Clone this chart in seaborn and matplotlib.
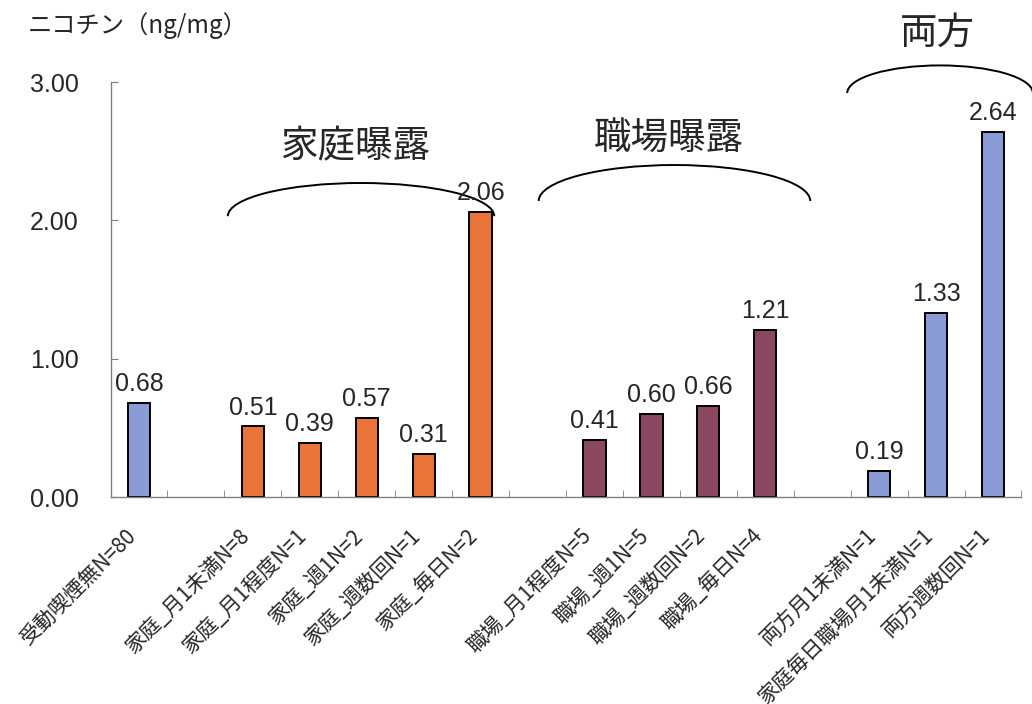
import pandas as pd
import numpy as np
import matplotlib.pyplot as plt
from matplotlib.patches import Arc
from matplotlib.ticker import FixedLocator
from matplotlib.transforms import ScaledTranslation
import seaborn as sns

# data
categories = ["受動喫煙無N=80",
              "家庭_月1未満N=8", "家庭_月1程度N=1", "家庭_週1N=2", "家庭_週数回N=1", "家庭_毎日N=2",
              "職場_月1程度N=5", "職場_週1N=5", "職場_週数回N=2", "職場_毎日N=4",
              "両方月1未満N=1", "家庭毎日職場月1未満N=1", "両方週数回N=1"]
values = [0.68, 0.51, 0.39, 0.57, 0.31, 2.06, 0.41, 0.60, 0.66, 1.21, 0.19, 1.33, 2.64]
groups = ["none"] + ["home"] * 5 + ["work"] * 4 + ["both"] * 3
yticks = [0, 1, 2, 3]

palette = {"none": "#8a9bd6", "home": "#e8743a", "work": "#8a4860", "both": "#8a9bd6"}

# group brackets: label, first cat, last cat, left/right overhang, arc base y, arc rise, text x shift, text y
brackets = [("家庭曝露", 1, 5, 0.44, 0.24, 2.03, 0.24, -0.11, 2.53),
            ("職場曝露", 6, 9, 0.98, 0.79, 2.14, 0.26, -0.10, 2.59),
            ("両方", 10, 12, 0.56, 0.70, 2.92, 0.20, -0.04, 3.35)]

df = pd.DataFrame({"cat": categories, "val": values, "grp": groups})

# blank slot between groups
order = []
spacers = []
for i, c in enumerate(categories):
    if i > 0 and groups[i] != groups[i - 1]:
        s = " " * (len(spacers) + 1)
        spacers.append(s)
        order.append(s)
    order.append(c)

sns.set_style("white")
plt.rcParams["font.family"] = ["Noto Sans CJK JP", "DejaVu Sans"]

fig = plt.figure(figsize=(10.32, 7.04), dpi=100)
ax = fig.add_axes([0.1071, 0.294, 0.8827, 0.5895])

sns.barplot(data=df, x="cat", y="val", hue="grp", order=order, palette=palette,
            dodge=False, width=0.39, saturation=1, edgecolor="black", linewidth=1.4,
            legend=False, ax=ax)

for cont in ax.containers:
    ax.bar_label(cont, fmt="%.2f", padding=5, fontsize=18, family="Liberation Sans")

ax.set_xlim(-0.5, len(order) - 0.5)
ax.set_ylim(0, 3.0)
ax.set_yticks(yticks)
ax.set_yticklabels(["%.2f" % t for t in yticks], fontsize=18, family="Liberation Sans")
ax.tick_params(axis="y", direction="in", length=5, color="#808080", pad=23, left=True)

labels = ["" if o in spacers else o for o in order]
ax.set_xticks(range(len(order)))
ax.set_xticklabels(labels, rotation=45, ha="right", rotation_mode="anchor", fontsize=15)
ax.tick_params(axis="x", length=0, pad=20)
shift = ScaledTranslation(-14 / 100, 0, fig.dpi_scale_trans)
for lab in ax.get_xticklabels():
    lab.set_transform(lab.get_transform() + shift)
ax.xaxis.set_minor_locator(FixedLocator(np.arange(0.5, len(order), 1)))
ax.tick_params(axis="x", which="minor", direction="in", length=5, color="#808080", bottom=True)

ax.set_xlabel("")
ax.set_ylabel("")
for s in ["top", "right"]:
    ax.spines[s].set_visible(False)
for s in ["left", "bottom"]:
    ax.spines[s].set_color("#808080")
    ax.spines[s].set_linewidth(1)

# brackets over the groups
pos = {c: order.index(c) for c in categories}
for name, a, b, lo, ro, base, rise, tdx, ty in brackets:
    x0 = pos[categories[a]] - lo
    x1 = pos[categories[b]] + ro
    arc = Arc(((x0 + x1) / 2, base), x1 - x0, 2 * rise, theta1=0, theta2=180,
              color="black", lw=1.4, clip_on=False)
    ax.add_patch(arc)
    ax.text((x0 + x1) / 2 + tdx, ty, name, fontsize=27, ha="center", va="center", clip_on=False)

fig.text(0.027, 0.963, "ニコチン（ng/mg）", fontsize=17.5, ha="left", va="center")

fig.savefig("out.png", dpi=100)
